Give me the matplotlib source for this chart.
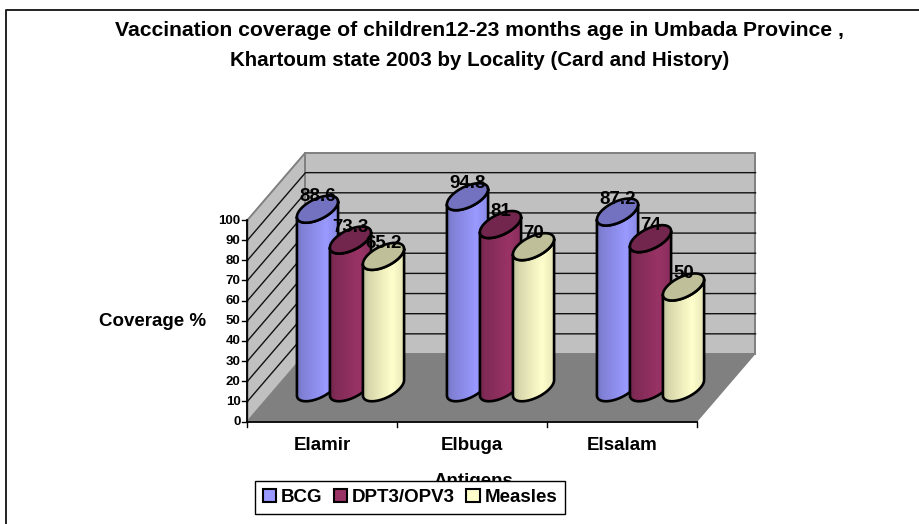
import matplotlib
matplotlib.use("Agg")
import matplotlib.pyplot as plt
import numpy as np
from matplotlib.patches import Patch, Polygon

plt.rcParams["font.family"] = ["Liberation Sans", "DejaVu Sans"]
plt.rcParams["font.weight"] = "bold"

# data
localities = ["Elamir", "Elbuga", "Elsalam"]
bcg = [88.6, 94.8, 87.2]
dpt = [73.3, 81, 74]
measles = [65.2, 70, 50]
series_names = ["BCG", "DPT3/OPV3", "Measles"]
y_ticks = [0, 10, 20, 30, 40, 50, 60, 70, 80, 90, 100]

series_colors = ["#9999ff", "#993366", "#ffffcc"]
top_colors = ["#7272c0", "#72264d", "#bfbf99"]

# oblique projection of the chart box, in image pixels
X0, Y0 = 247.5, 421.5
CAT_W = 150.0
UNIT = 2.015
DEPTH_X, DEPTH_Y = 58.0, 67.5
BAR_OFF = [41.0, 74.0, 107.0]
RAD, RAD_D = 17.0, 0.2


def project(cat, value, depth):
    # cat in category units, value in %, depth 0 (front) to 1 (back)
    x = X0 + cat * CAT_W + depth * DEPTH_X
    y = Y0 - value * UNIT - depth * DEPTH_Y
    return x, y


def ellipse(cat, value, t):
    x, y = project(cat, value, 0.5 + RAD_D * np.sin(t))
    return x + RAD * np.cos(t), y


def shade(color, k):
    rgb = np.array(matplotlib.colors.to_rgb(color))
    return np.clip(rgb * k, 0, 1)


def draw_cylinder(ax, cat, value, color, top, z):
    # tangent points of the sides on the ellipse
    t0 = np.arctan2(RAD_D * DEPTH_X, RAD)
    t_low = np.linspace(t0, t0 - np.pi, 60)   # lower arc, right to left
    t_up = np.linspace(t0 - np.pi, t0 - 2 * np.pi, 60)
    xb, yb = ellipse(cat, 0, t_low)
    xt, yt = ellipse(cat, value, t_low)
    body = np.r_[np.c_[xb, yb], np.c_[xt, yt][::-1]]
    patch = Polygon(body, closed=True, fc="none", ec="none", zorder=z)
    ax.add_patch(patch)
    # horizontal shading of the side, clipped to the outline
    ks = np.interp(np.linspace(0, 1, 40), [0, 0.12, 0.7, 1], [0.76, 0.84, 1.0, 0.9])
    img = np.array([[shade(color, k) for k in ks]])
    im = ax.imshow(img, extent=(body[:, 0].min(), body[:, 0].max(), body[:, 1].max(), body[:, 1].min()),
                   aspect="auto", zorder=z, interpolation="bilinear")
    im.set_clip_path(patch)
    ax.add_patch(Polygon(body, closed=True, fc="none", ec="black", lw=1.9, zorder=z + 0.1, joinstyle="round"))
    xe, ye = ellipse(cat, value, np.r_[t_low, t_up])
    ax.add_patch(Polygon(np.c_[xe, ye], closed=True, fc=top, ec="black", lw=1.9, zorder=z + 0.2))


fig = plt.figure(figsize=(9.2, 5.24), dpi=100)
ax = fig.add_axes([0, 0, 1, 1])

# walls and floor
n_cat = len(localities)
corners_floor = [project(0, 0, 0), project(n_cat, 0, 0), project(n_cat, 0, 1), project(0, 0, 1)]
corners_side = [project(0, 0, 0), project(0, 100, 0), project(0, 100, 1), project(0, 0, 1)]
corners_back = [project(0, 0, 1), project(0, 100, 1), project(n_cat, 100, 1), project(n_cat, 0, 1)]
ax.add_patch(Polygon(corners_side, closed=True, fc="#c0c0c0", ec="#808080", lw=1.4, zorder=1))
ax.add_patch(Polygon(corners_back, closed=True, fc="#c0c0c0", ec="#808080", lw=1.4, zorder=1))

for v in y_ticks[1:-1]:
    x1, y1 = project(0, v, 0)
    x2, y2 = project(0, v, 1)
    x3, y3 = project(n_cat, v, 1)
    ax.plot([x1, x2, x3], [y1, y2, y3], color="#111111", lw=1.0, zorder=1.5)

ax.add_patch(Polygon(corners_floor, closed=True, fc="#808080", ec="none", zorder=2))

# axes lines and ticks
xa, ya = project(0, 0, 0)
xb, yb = project(0, 100, 0)
xc, yc = project(n_cat, 0, 0)
ax.plot([xa, xb], [ya, yb], color="black", lw=1.3, zorder=3)
ax.plot([xa, xc], [ya, yc], color="black", lw=1.3, zorder=3)
for v in y_ticks:
    x, y = project(0, v, 0)
    ax.plot([x - 5, x], [y, y], color="black", lw=1.0, zorder=3)
    ax.text(x - 7, y + 0.5, str(v), ha="right", va="center", fontsize=9.5, zorder=3)
for c in range(n_cat + 1):
    x, y = project(c, 0, 0)
    ax.plot([x, x], [y, y + 5], color="black", lw=1.0, zorder=3)
for c, name in enumerate(localities):
    x, y = project(c + 0.5, 0, 0)
    ax.text(x - 0.5, y + 24, name, ha="center", va="center", fontsize=13.5)

# cylinders, series by series inside each locality
z = 4.0
for c in range(n_cat):
    for s, values in enumerate([bcg, dpt, measles]):
        cat = c + BAR_OFF[s] / CAT_W
        draw_cylinder(ax, cat, values[c], series_colors[s], top_colors[s], z)
        z += 0.3
z_label = z + 1
for c in range(n_cat):
    for s, values in enumerate([bcg, dpt, measles]):
        cat = c + BAR_OFF[s] / CAT_W
        x, y = project(cat, values[c], 0.5)
        ax.text(x, y - 13, f"{values[c]:g}", ha="center", va="center", fontsize=13.5, zorder=z_label)

# titles
ax.text(480, 30, "Vaccination coverage of children12-23 months age in Umbada Province ,",
        ha="center", va="center", fontsize=15.2)
ax.text(480, 60, "Khartoum state 2003 by Locality (Card and History)",
        ha="center", va="center", fontsize=14.8)
ax.text(153, 321, "Coverage %", ha="center", va="center", fontsize=13.5)
ax.text(473, 482, "Antigens", ha="center", va="center", fontsize=13.5, zorder=2)

# outer frame, only left and top are in the crop
ax.plot([6.5, 6.5, 920], [524, 10, 10], color="#222222", lw=1.4, zorder=1)

handles = [Patch(fc=col, ec="black", lw=1.5) for col in series_colors]
leg = ax.legend(handles, series_names, loc="center", bbox_to_anchor=(410, 497.5), bbox_transform=ax.transData,
                ncol=3, frameon=True, fancybox=False, framealpha=1, edgecolor="black", fontsize=13.5,
                handlelength=0.72, handleheight=0.72, handletextpad=0.25, columnspacing=0.6,
                borderpad=0.4, borderaxespad=0)
leg.get_frame().set_linewidth(1.0)
leg.set_zorder(50)

ax.set_xlim(0, 920)
ax.set_ylim(524, 0)
ax.axis("off")

fig.savefig("out.png", dpi=100)
